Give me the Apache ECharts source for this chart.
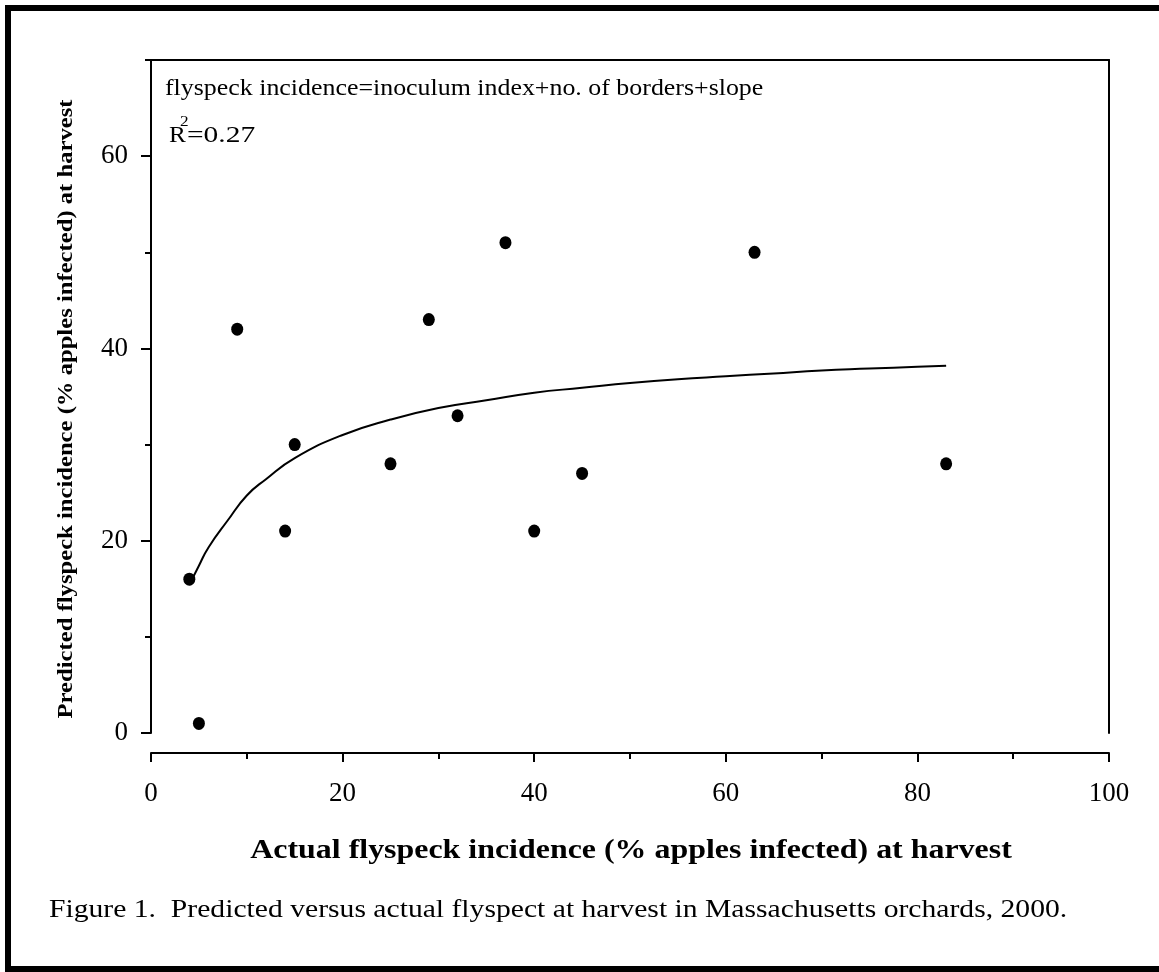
<!DOCTYPE html>
<html>
<head>
<meta charset="utf-8">
<script src="https://cdn.jsdelivr.net/npm/echarts@6/dist/echarts.min.js"></script>
<style>
  html, body { margin: 0; padding: 0; background: #fff; }
  #main { width: 1159px; height: 972px; }
</style>
</head>
<body>
<div id="main"></div>
<script>
// actual vs predicted incidence (one point per orchard)
var actual = [4, 5, 9, 14, 15, 25, 29, 32, 37, 40, 45, 63, 83];
var predicted = [16, 1, 42, 21, 30, 28, 43, 33, 51, 21, 27, 50, 28];
// fitted curve
var fitX = [4, 5, 6, 8, 10, 12, 15, 20, 25, 30, 35, 40, 45, 50, 55, 60, 65, 70, 75, 80, 83];
var fitY = [15.4, 17.4, 19.3, 22.1, 24.7, 26.4, 28.6, 31.0, 32.6, 33.8, 34.6, 35.4, 35.9, 36.4, 36.8, 37.1, 37.4, 37.7, 37.9, 38.1, 38.2];
// tick labels
var xTicks = [0, 20, 40, 60, 80, 100];
var yMajor = [0, 20, 40, 60];
var yMinor = [10, 30, 50, 70];

var serif = 'Liberation Serif';
var black = '#000';

var points = actual.map(function (x, i) { return [x, predicted[i]]; });
var fit = fitX.map(function (x, i) { return [x, fitY[i]]; });

var gridRect = { left: 151, right: 50, top: 60, bottom: 239 };
var edge = { show: true, onZero: false, lineStyle: { color: black, width: 2 } };

function label(txt, x, y, size, sx, opts) {
    var o = {
        type: 'text',
        x: x,
        y: y,
        scaleX: sx,
        silent: true,
        style: {
            text: txt,
            fill: black,
            font: size + 'px "Liberation Serif"',
            align: 'left',
            verticalAlign: 'middle'
        }
    };
    return Object.assign(o, opts || {});
}

var option = {
    backgroundColor: '#fff',
    animation: false,
    grid: [
        Object.assign({}, gridRect),
        Object.assign({}, gridRect)
    ],
    xAxis: [
        {   // bottom axis, set off below the box
            gridIndex: 0,
            type: 'value',
            position: 'bottom',
            min: 0,
            max: 100,
            interval: 20,
            offset: 20,
            axisLine: edge,
            axisTick: { show: true, length: 9, lineStyle: { color: black, width: 2 } },
            minorTick: { show: true, splitNumber: 2, length: 6, lineStyle: { color: black, width: 2 } },
            splitLine: { show: false },
            axisLabel: {
                margin: 27,
                color: black,
                fontFamily: serif,
                fontSize: 27,
                customValues: xTicks
            }
        },
        {   // top edge of the box
            gridIndex: 0,
            type: 'value',
            position: 'top',
            min: 0,
            max: 100,
            axisLine: edge,
            axisTick: { show: false },
            axisLabel: { show: false },
            splitLine: { show: false }
        },
        {
            gridIndex: 1,
            type: 'value',
            min: 0,
            max: 100,
            show: false
        }
    ],
    yAxis: [
        {
            gridIndex: 0,
            type: 'value',
            position: 'left',
            min: 0,
            max: 70,
            interval: 10,
            axisLine: edge,
            axisTick: { show: true, length: 10, customValues: yMajor, lineStyle: { color: black, width: 2 } },
            splitLine: { show: false },
            axisLabel: {
                margin: 23,
                color: black,
                fontFamily: serif,
                fontSize: 27,
                customValues: yMajor
            }
        },
        {   // right edge of the box
            gridIndex: 0,
            type: 'value',
            position: 'right',
            min: 0,
            max: 70,
            axisLine: edge,
            axisTick: { show: false },
            axisLabel: { show: false },
            splitLine: { show: false }
        },
        {   // short ticks between the labelled ones
            gridIndex: 1,
            type: 'value',
            position: 'left',
            min: 0,
            max: 70,
            interval: 10,
            axisLine: { show: false, onZero: false },
            axisTick: { show: true, length: 6, customValues: yMinor, lineStyle: { color: black, width: 2 } },
            axisLabel: { show: false },
            splitLine: { show: false }
        }
    ],
    series: [
        {
            type: 'line',
            xAxisIndex: 0,
            yAxisIndex: 0,
            data: fit,
            smooth: true,
            showSymbol: false,
            lineStyle: { color: black, width: 2 },
            z: 2
        },
        {
            type: 'scatter',
            xAxisIndex: 0,
            yAxisIndex: 0,
            data: points,
            symbol: 'circle',
            symbolSize: [12, 13],
            itemStyle: { color: black, opacity: 1 },
            z: 3
        }
    ],
    graphic: [
        {
            type: 'rect',
            shape: { x: 8, y: 8, width: 1170, height: 961 },
            style: { fill: 'none', stroke: black, lineWidth: 6 },
            silent: true
        },
        // y axis title
        {
            type: 'text',
            x: 66,
            y: 409,
            rotation: Math.PI / 2,
            scaleX: 1.12,
            silent: true,
            style: {
                text: 'Predicted flyspeck incidence (% apples infected) at harvest',
                fill: black,
                font: 'bold 22px "Liberation Serif"',
                align: 'center',
                verticalAlign: 'middle'
            }
        },
        // x axis title
        {
            type: 'text',
            x: 631,
            y: 851,
            scaleX: 1.14,
            silent: true,
            style: {
                text: 'Actual flyspeck incidence (% apples infected) at harvest',
                fill: black,
                font: 'bold 28px "Liberation Serif"',
                align: 'center',
                verticalAlign: 'middle'
            }
        },
        label('flyspeck incidence=inoculum index+no. of borders+slope', 165, 89, 23, 1.126),
        label('R', 169, 136, 23, 1.1),
        label('2', 180, 122, 15, 1.15),
        label('=0.27', 187, 136, 23, 1.28),
        label('Figure 1.  Predicted versus actual flyspect at harvest in Massachusetts orchards, 2000.', 49, 910, 26, 1.14)
    ]
};

var myChart = echarts.init(document.getElementById('main'));
myChart.setOption(option);
</script>
</body>
</html>
